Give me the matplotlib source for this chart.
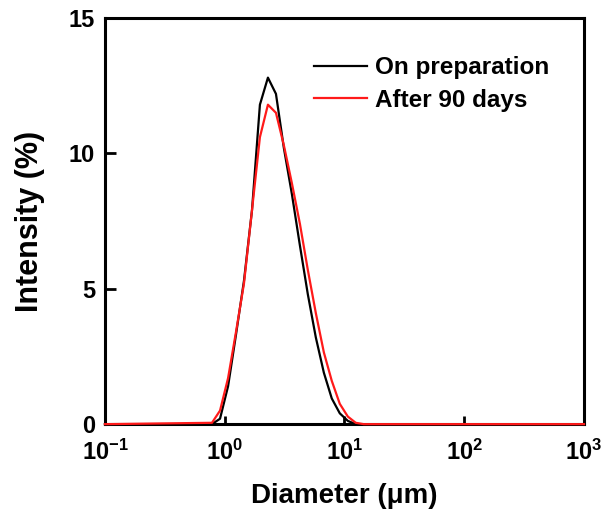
import matplotlib

matplotlib.use("Agg")
import matplotlib.pyplot as plt
from matplotlib.ticker import LogLocator, NullLocator

# 粒径 (µm) 与强度 (%)
diameter = [0.1, 0.783, 0.914, 1.067, 1.242, 1.449, 1.690, 1.968, 2.296, 2.679,
            3.119, 3.639, 4.246, 4.943, 5.768, 6.730, 7.834, 9.141, 10.67,
            12.42, 14.49, 1000]
on_preparation = [0, 0, 0.2, 1.4, 3.3, 5.3, 7.9, 11.8, 12.8, 12.2,
                  10.2, 8.5, 6.6, 4.8, 3.2, 1.9, 0.95, 0.4, 0.12,
                  0, 0, 0]
after_90_days = [0, 0.05, 0.5, 1.7, 3.4, 5.2, 7.9, 10.6, 11.8, 11.5,
                 10.3, 8.9, 7.4, 5.7, 4.1, 2.65, 1.6, 0.75, 0.28,
                 0.05, 0, 0]

series_labels = ["On preparation", "After 90 days"]
y_ticks = [0, 5, 10, 15]

plt.rcParams["font.family"] = ["Liberation Sans", "DejaVu Sans"]
plt.rcParams["font.weight"] = "bold"
plt.rcParams["mathtext.fontset"] = "custom"
plt.rcParams["mathtext.rm"] = "Liberation Sans:bold"
plt.rcParams["mathtext.bf"] = "Liberation Sans:bold"

fig = plt.figure(figsize=(6.03, 5.16), dpi=100)
ax = fig.add_axes([0.174, 0.178, 0.7945, 0.787])

# 曲线画在坐标轴之上，基线处也能看到颜色
ax.plot(diameter, on_preparation, color="black", lw=1.6, label=series_labels[0],
        clip_on=False, zorder=3)
ax.plot(diameter, after_90_days, color="#ff1a1a", lw=1.6, label=series_labels[1],
        clip_on=False, zorder=4)

ax.set_xscale("log")
ax.set_xlim(0.1, 1000)
ax.set_ylim(0, 15)
ax.set_yticks(y_ticks)
ax.xaxis.set_major_locator(LogLocator(base=10, numticks=10))
ax.xaxis.set_minor_locator(NullLocator())

for spine in ax.spines.values():
    spine.set_linewidth(2.2)
ax.tick_params(direction="in", length=6, width=2, labelsize=17)
ax.tick_params(axis="x", pad=11)
ax.tick_params(axis="y", pad=7, length=8)

ax.set_xlabel("Diameter (μm)", fontsize=20, fontweight="bold", labelpad=13)
ax.set_ylabel("Intensity (%)", fontsize=22, fontweight="bold", labelpad=17)

ax.legend(loc="upper left", bbox_to_anchor=(0.436, 0.906), frameon=False,
          borderpad=0, borderaxespad=0, fontsize=17.5, handlelength=2.2,
          handletextpad=0.3, labelspacing=0.4)

fig.savefig("out.png", dpi=100)
